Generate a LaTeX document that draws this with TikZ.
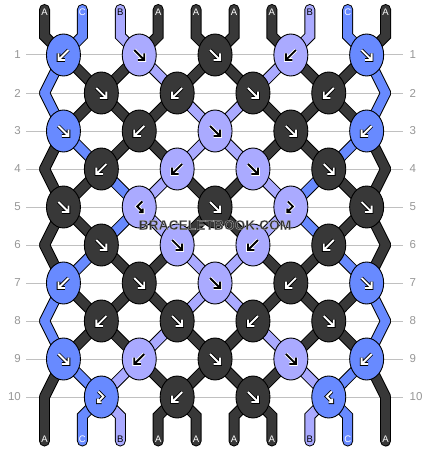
\documentclass[tikz,border=0pt]{standalone}
\usepackage{fontspec}
\setmainfont{Liberation Sans}
\usetikzlibrary{shapes.geometric}
\definecolor{cA}{RGB}{56,56,56}
\definecolor{cB}{RGB}{170,170,255}
\definecolor{cC}{RGB}{104,138,255}
\colorlet{tA}{white}\colorlet{tB}{black}\colorlet{tC}{white}
\colorlet{oA}{black}\colorlet{oB}{white}\colorlet{oC}{black}
\definecolor{gridgray}{RGB}{192,192,192}
\definecolor{numgray}{RGB}{150,150,150}
\definecolor{wmgray}{RGB}{50,50,50}
\pgfdeclarelayer{back}
\pgfdeclarelayer{strings}
\pgfsetlayers{back,strings,main}
\tikzset{
  knot/.style={ellipse, draw=black, line width=0.9pt, minimum width=34pt, minimum height=42pt, inner sep=0pt},
  rowline/.style={draw=gridgray, line width=1pt},
  rownum/.style={text=numgray, font=\fontsize{11.5}{11.5}\selectfont, inner sep=0pt},
  endlabel/.style={font=\fontsize{9.5}{9.5}\selectfont, inner sep=0pt},
  wmtext/.style={font=\bfseries\fontsize{13.8}{13.8}\selectfont, inner sep=0pt},
  glyph/.style={line join=miter, line cap=butt},
  strand/.style={line cap=round, line join=miter},
  pics/arF/.style={code={\path[pic actions] (-5,-5) -- (4.3,4.3) (5,-1.5) -- (5,5) -- (-1.5,5);}},
  pics/arB/.style={code={\path[pic actions] (5,-5) -- (-4.3,4.3) (-5,-1.5) -- (-5,5) -- (1.5,5);}},
  pics/arFB/.style={code={\path[pic actions] (-3,-5.5) -- (2,-0.5) -- (-3,4.5) (-3.5,1.5) -- (-3.5,5.2) -- (0.2,5.2);}},
  pics/arBF/.style={code={\path[pic actions] (3,-5.5) -- (-2,-0.5) -- (3,4.5) (3.5,1.5) -- (3.5,5.2) -- (-0.2,5.2);}},
}
\newcommand\knotrow[3]{%
  \foreach \t/\c [count=\j] in {#3} {%
    \pgfmathsetmacro\kx{#2+(\j-1)*75.8}%
    \pgfmathsetmacro\ky{55+(#1-1)*38}%
    \edef\tmp{%
      \noexpand\node[knot, fill=c\c] (k-#1-\j) at (\kx,\ky) {};%
      \noexpand\pic[glyph, draw=o\c, line width=3.6pt] at (k-#1-\j) {ar\t};%
      \noexpand\pic[glyph, draw=t\c, line width=1.9pt] at (k-#1-\j) {ar\t};%
    }\tmp
  }%
}
\newcommand\strrow[3]{%
  \foreach \c [count=\p] in {#3} {%
    \pgfmathtruncatemacro\rn{#1+1}%
    \ifx o#2\def\sty{draw=black,line width=11pt}\else\edef\sty{draw=c\c,line width=9pt}\fi
    \ifnum#1=0
      \edef\tmp{\noexpand\draw[strand,\sty] (t-\p) -- (tb-\p) -- (n-1-\p);}%
    \else\ifnum#1=10
      \edef\tmp{\noexpand\draw[strand,\sty] (n-10-\p) -- (bb-\p) -- (b-\p);}%
    \else
      \edef\tmp{\noexpand\draw[strand,\sty] (n-#1-\p) -- (n-\rn-\p);}%
    \fi\fi
    \tmp
  }%
}
\newcommand\allstrings[1]{%
  \strrow{0}{#1}{A,C,B,A,A,A,A,B,C,A}
  \strrow{1}{#1}{C,A,A,B,A,A,B,A,A,C}
  \strrow{2}{#1}{C,A,A,A,B,B,A,A,A,C}
  \strrow{3}{#1}{A,C,A,A,B,B,A,A,C,A}
  \strrow{4}{#1}{A,A,C,B,A,A,B,C,A,A}
  \strrow{5}{#1}{A,A,C,B,A,A,B,C,A,A}
  \strrow{6}{#1}{A,C,A,A,B,B,A,A,C,A}
  \strrow{7}{#1}{C,A,A,A,B,B,A,A,A,C}
  \strrow{8}{#1}{C,A,A,B,A,A,B,A,A,C}
  \strrow{9}{#1}{A,C,B,A,A,A,A,B,C,A}
  \strrow{10}{#1}{A,C,B,A,A,A,A,B,C,A}
}
\begin{document}
\begin{tikzpicture}[x=1pt,y=-1pt]
\useasboundingbox (0,0) rectangle (430,452);
% row guide lines and numbers
\foreach \r in {1,...,10} {
  \pgfmathsetmacro\yy{55+(\r-1)*38}
  \coordinate (ll-\r) at (26,\yy);
  \coordinate (lr-\r) at (403,\yy);
  \node[rownum, anchor=east] (nl-\r) at (21,\yy) {\r};
  \node[rownum, anchor=west] (nr-\r) at (409.5,\yy) {\r};
  \begin{pgfonlayer}{back}
    \draw[rowline] (ll-\r) -- (lr-\r);
  \end{pgfonlayer}
}
% string end coordinates
\foreach \p in {1,...,10} {
  \pgfmathsetmacro\sx{44.5+(\p-1)*37.9}
  \coordinate (t-\p) at (\sx,9.5);
  \coordinate (tb-\p) at (\sx,36);
  \coordinate (bb-\p) at (\sx,416);
  \coordinate (b-\p) at (\sx,441);
}
% knots
\knotrow{1}{63.45}{B/C,F/B,F/A,B/B,F/C}
\knotrow{2}{101.35}{F/A,B/A,F/A,B/A}
\knotrow{3}{63.45}{F/C,B/A,F/B,F/A,B/C}
\knotrow{4}{101.35}{B/A,B/B,F/B,F/A}
\knotrow{5}{63.45}{F/A,BF/B,F/A,FB/B,F/A}
\knotrow{6}{101.35}{F/A,F/B,B/B,B/A}
\knotrow{7}{63.45}{B/C,F/A,F/B,B/A,F/C}
\knotrow{8}{101.35}{B/A,F/A,B/A,F/A}
\knotrow{9}{63.45}{F/C,B/B,F/A,F/B,B/C}
\knotrow{10}{101.35}{FB/C,B/A,F/A,BF/C}
% position coordinates per row
\foreach \r in {1,...,10} {
  \foreach \p in {1,...,10} {
    \pgfmathtruncatemacro\j{isodd(\r) ? int((\p+1)/2) : int(\p/2)}
    \pgfmathtruncatemacro\edge{(isodd(\r)==0) && ((\p==1) || (\p==10)) ? 1 : 0}
    \pgfmathsetmacro\yy{55+(\r-1)*38}
    \pgfmathsetmacro\sx{44.5+(\p-1)*37.9}
    \ifnum\edge=1
      \coordinate (n-\r-\p) at (\sx,\yy);
    \else
      \coordinate (n-\r-\p) at (k-\r-\j.center);
    \fi
  }
}
% strings
\begin{pgfonlayer}{strings}
  \allstrings{o}
  \allstrings{f}
\end{pgfonlayer}
% end letters
\foreach \c [count=\p] in {A,C,B,A,A,A,A,B,C,A} {
  \pgfmathsetmacro\sx{44.5+(\p-1)*37.9}
  \node[endlabel, text=t\c] (lt-\p) at (\sx,12.5) {\c};
  \node[endlabel, text=t\c] (lb-\p) at (\sx,439.5) {\c};
}
% watermark: dark fill with a thin light outline (text render mode 2)
\node[wmtext, text=wmgray] (wm) at (215,225)
  {\special{pdf:code 0.85 G 0.2 w 1 j 2 Tr}BRACELETBOOK.COM\special{pdf:code 0 Tr}};
\end{tikzpicture}
\end{document}
